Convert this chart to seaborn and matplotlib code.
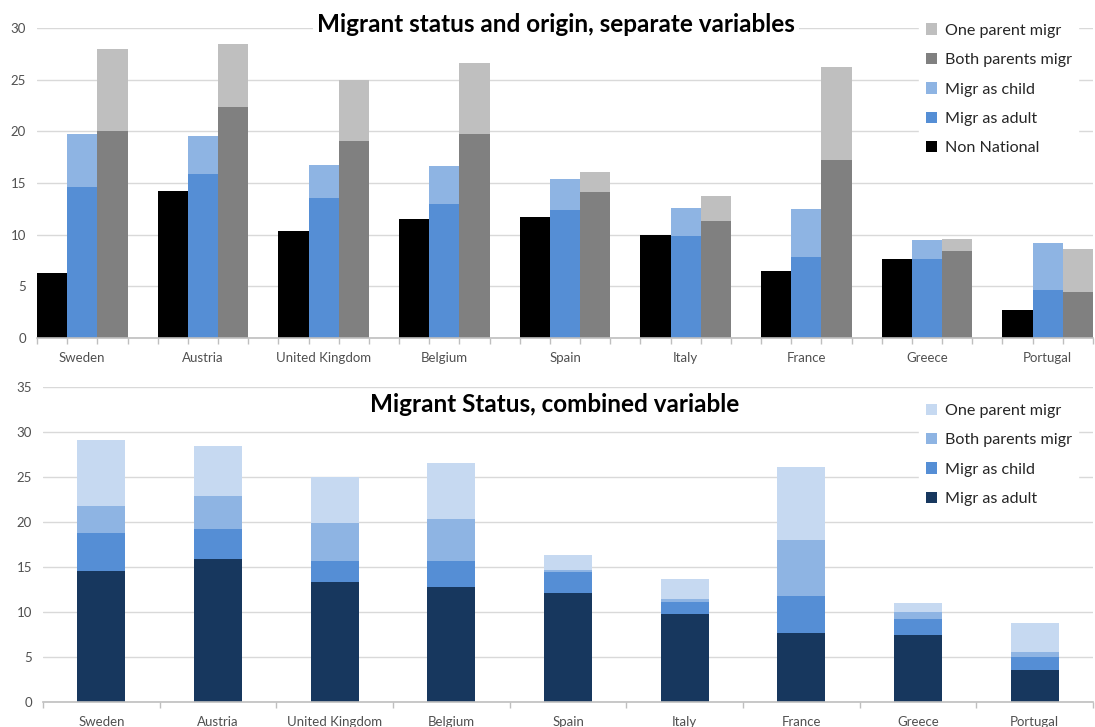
import matplotlib
matplotlib.use("Agg")
import matplotlib.pyplot as plt
import seaborn as sns
import pandas as pd
import numpy as np
from matplotlib.patches import Patch

countries = ["Sweden", "Austria", "United Kingdom", "Belgium", "Spain",
             "Italy", "France", "Greece", "Portugal"]

# Top chart: separate variables (segment heights)
non_national = [6.25, 14.25, 10.4, 11.5, 11.7, 10.0, 6.45, 7.6, 2.7]
top_adult = [14.6, 15.9, 13.5, 13.0, 12.4, 9.9, 7.8, 7.6, 4.6]
top_child = [5.1, 3.6, 3.2, 3.6, 3.0, 2.7, 4.7, 1.85, 4.6]
top_both = [20.0, 22.35, 19.1, 19.7, 14.1, 11.3, 17.2, 8.45, 4.45]
top_one = [7.95, 6.15, 5.9, 6.9, 2.0, 2.4, 9.05, 1.1, 4.2]

# Bottom chart: combined variable (segment heights)
bot_adult = [14.6, 15.9, 13.3, 12.8, 12.1, 9.8, 7.65, 7.4, 3.6]
bot_child = [4.2, 3.3, 2.4, 2.9, 2.3, 1.35, 4.1, 1.85, 1.45]
bot_both = [3.0, 3.65, 4.2, 4.6, 0.3, 0.3, 6.3, 0.75, 0.5]
bot_one = [7.35, 5.55, 5.15, 6.3, 1.6, 2.2, 8.1, 1.0, 3.2]

top_legend = ["One parent migr", "Both parents migr", "Migr as child",
              "Migr as adult", "Non National"]
bot_legend = ["One parent migr", "Both parents migr", "Migr as child",
              "Migr as adult"]

C_BLACK = "#000000"
C_ADULT = "#558ED5"
C_CHILD = "#8EB4E3"
C_BOTH = "#808080"
C_ONE = "#BFBFBF"
B_ADULT = "#17375E"
B_CHILD = "#558ED5"
B_BOTH = "#8EB4E3"
B_ONE = "#C6D9F1"

sns.set_theme(style="white")
plt.rcParams["font.family"] = ["Lato", "DejaVu Sans"]

W, H = 1095, 727
fig = plt.figure(figsize=(W / 100, H / 100), dpi=100)
ax1 = fig.add_axes([37 / W, 1 - 338 / H, (1093 - 37) / W, (338 - 28) / H])
ax2 = fig.add_axes([43 / W, 1 - 702 / H, (1093 - 43) / W, (702 - 387) / H])

groups = ["nn", "migr", "par"]


def long_df(series):
    rows = []
    for g, vals in zip(groups, series):
        for c, v in zip(countries, vals):
            rows.append((c, g, v))
    return pd.DataFrame(rows, columns=["country", "group", "value"])


upper = long_df([non_national, np.add(top_adult, top_child), np.add(top_both, top_one)])
lower = long_df([non_national, top_adult, top_both])

for df, pal in [(upper, {"nn": C_BLACK, "migr": C_CHILD, "par": C_ONE}),
                (lower, {"nn": C_BLACK, "migr": C_ADULT, "par": C_BOTH})]:
    sns.barplot(data=df, x="country", y="value", hue="group", order=countries,
                hue_order=groups, palette=pal, width=0.75, dodge=True,
                saturation=1, errorbar=None, legend=False, linewidth=0, ax=ax1)

# bottom stacked
cum1 = np.array(bot_adult)
cum2 = cum1 + np.array(bot_child)
cum3 = cum2 + np.array(bot_both)
cum4 = cum3 + np.array(bot_one)
for vals, col in [(cum4, B_ONE), (cum3, B_BOTH), (cum2, B_CHILD), (cum1, B_ADULT)]:
    sns.barplot(x=countries, y=vals, order=countries, color=col, width=0.41,
                saturation=1, errorbar=None, linewidth=0, ax=ax2)

TICK_COL = "#505050"
for ax, ymax, xl, minors in [
    (ax1, 30, (-0.375, 8.375), np.arange(36) * 0.25 - 0.375),
    (ax2, 35, (-0.5, 8.5), np.arange(10) - 0.5),
]:
    ax.set_xlim(*xl)
    ax.set_ylim(0, ymax)
    ax.set_yticks(np.arange(0, ymax + 1, 5))
    ax.set_xticks(np.arange(len(countries)))
    ax.set_xticklabels(countries)
    ax.set_xticks(minors, minor=True)
    ax.set_xlabel("")
    ax.set_ylabel("")
    ax.yaxis.grid(True, color="#D9D9D9", linewidth=1)
    ax.set_axisbelow(True)
    for s in ["top", "left", "right"]:
        ax.spines[s].set_visible(False)
    ax.spines["bottom"].set_color("#BFBFBF")
    ax.spines["bottom"].set_linewidth(1.2)
    ax.tick_params(axis="x", which="major", length=0, pad=10, labelsize=9.5,
                   labelcolor=TICK_COL)
    ax.tick_params(axis="x", which="minor", bottom=True, length=4, width=1,
                   color="#BFBFBF", direction="out")
    ax.tick_params(axis="y", length=0, pad=8, labelsize=9.5, labelcolor=TICK_COL)

# titles
fig.text(556 / W, 1 - 25 / H, "Migrant status and origin, separate variables",
         ha="center", va="center", fontsize=17.5, fontweight="bold", color="#000000",
         bbox=dict(facecolor="white", edgecolor="none", pad=3))
fig.text(555 / W, 1 - 404 / H, "Migrant Status, combined variable",
         ha="center", va="center", fontsize=17.5, fontweight="bold", color="#000000")

# legends
top_cols = [C_ONE, C_BOTH, C_CHILD, C_ADULT, C_BLACK]
bot_cols = [B_ONE, B_BOTH, B_CHILD, B_ADULT]
for ax, labels, cols, ytop in [(ax1, top_legend, top_cols, 9),
                               (ax2, bot_legend, bot_cols, 389)]:
    handles = [Patch(facecolor=c, edgecolor="none", label=l) for l, c in zip(labels, cols)]
    leg = ax.legend(handles=handles, loc="upper left",
                    bbox_to_anchor=(911 / W, 1 - ytop / H),
                    bbox_transform=fig.transFigure, frameon=True,
                    facecolor="white", edgecolor="white", framealpha=1,
                    fontsize=11.6, handlelength=0.7, handleheight=0.7,
                    handletextpad=0.5, labelspacing=0.94, borderpad=0.4,
                    fancybox=False)
    for t in leg.get_texts():
        t.set_color("#262626")

fig.savefig("out.png", dpi=100)
